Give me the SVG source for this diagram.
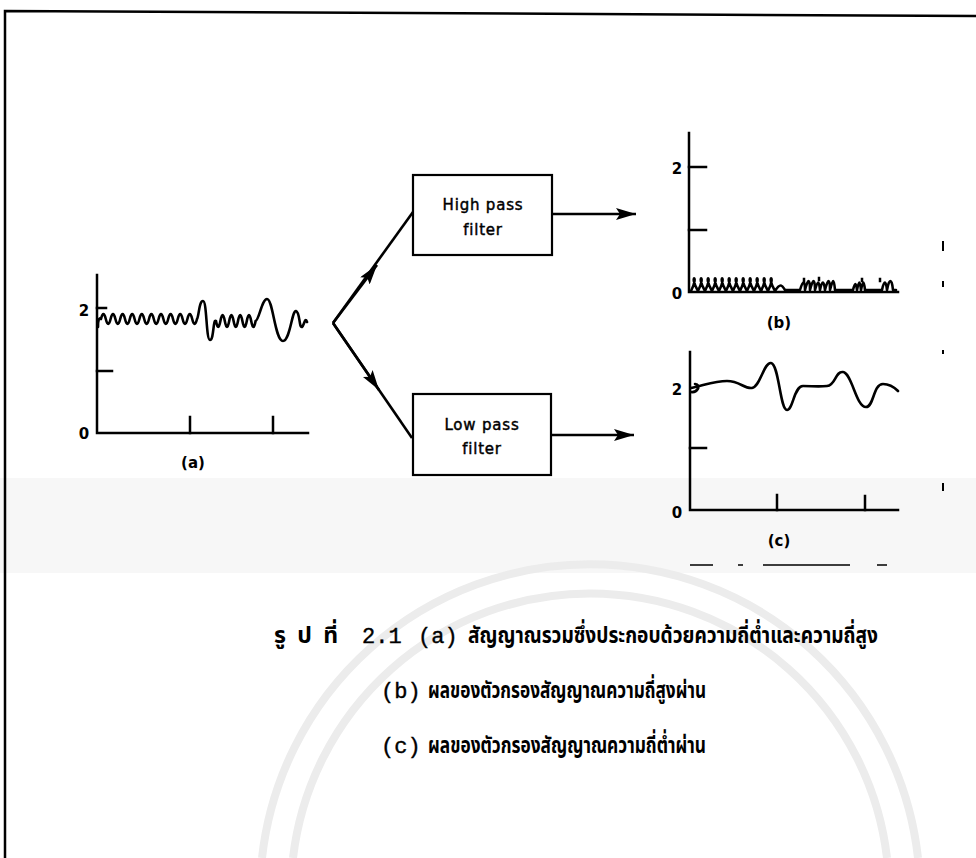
<svg xmlns="http://www.w3.org/2000/svg" width="976" height="858" viewBox="0 0 976 858">
<style>
  .ax{fill:none;stroke:#000;stroke-width:2.5;stroke-linecap:square}
  .sig{fill:none;stroke:#000;stroke-width:2.6;stroke-linejoin:round;stroke-linecap:round}
  .box{fill:#fff;stroke:#000;stroke-width:2.2}
  .lbl{font-family:"DejaVu Sans","Liberation Sans",sans-serif;font-size:15px;fill:#000;stroke:#000;stroke-width:0.45;text-anchor:middle}
  .num{font-family:"DejaVu Sans","Liberation Sans",sans-serif;font-size:15px;font-weight:bold;fill:#000;text-anchor:middle}
  .cap{font-family:"Noto Sans Thai","Loma","Garuda","DejaVu Sans","Noto Sans",sans-serif;font-size:23px;font-weight:bold;fill:#000}
  .mono{font-family:"Liberation Mono","DejaVu Sans Mono",monospace;font-size:22px;fill:#000;stroke:#000;stroke-width:0.4}
  .conn{fill:none;stroke:#000;stroke-width:2.6}
  .wm{fill:none;stroke:#ececec;stroke-width:8}
</style>
<defs>
  <marker id="ah" viewBox="0 0 20 12" refX="20" refY="6" markerWidth="20" markerHeight="12" markerUnits="userSpaceOnUse" orient="auto">
    <path d="M0,0 L20,6 L0,12 L4,6 Z" fill="#000"/>
  </marker>
</defs>
<rect width="976" height="858" fill="#fff"/>
<rect x="0" y="478" width="976" height="95" fill="#f7f7f7"/>
<g id="watermark">
  <path class="wm" d="M262,858 A330,330 0 0 1 918,858"/>
  <path class="wm" d="M293,858 A299,299 0 0 1 887,858"/>
</g>
<g id="border">
  <path d="M5,858 L5,11 L976,16" fill="none" stroke="#000" stroke-width="2.5"/>
</g>
<g id="plot-a">
  <path class="ax" d="M97,275 L97,433 L308,433"/>
  <path class="ax" d="M97,308 L106,308 M97,371 L112,371 M190,433 L190,417 M273,433 L273,417"/>
  <text class="num" x="84" y="316">2</text>
  <text class="num" x="84" y="439">0</text>
  <text class="num" x="193" y="468">(a)</text>
  <path class="sig" d="M98,327 C98,320 99,317 101,319 q2.4,-10 4.8,0 t4.8,0 t4.8,0 t4.8,0 t4.8,0 t4.8,0 t4.8,0 t4.8,0 t4.8,0 t4.8,0 t4.8,0 t4.8,0 t4.8,0 t4.8,0 t4.8,0 t4.8,0 t4.8,0 t4.8,0 t4.8,0 t4.8,0 C199,316 199,301 203,301 C207,301 206,340 210,340 C214,340 213,318 216,321 q2.2,12 4.4,0 t4.4,0 t4.4,0 t4.4,0 t4.4,0 t4.4,0 t4.4,0 t4.4,0 t4.4,0 C259,320 262,299 267,299 C273,299 275,341 283,341 C290,341 292,310 296,311 C300,312 299,328 302,327 C304,326 305,316 307,322"/>
</g>
<g id="high-pass">
  <rect class="box" x="413" y="175" width="139" height="80"/>
  <text class="lbl" x="483" y="210" letter-spacing="0.8">High pass</text>
  <text class="lbl" x="483" y="235" letter-spacing="0.8">filter</text>
</g>
<g id="low-pass">
  <rect class="box" x="413" y="394" width="138" height="81"/>
  <text class="lbl" x="482" y="430" letter-spacing="0.8">Low pass</text>
  <text class="lbl" x="482" y="454" letter-spacing="0.8">filter</text>
</g>
<g id="connectors">
  <line class="conn" x1="333" y1="323" x2="413" y2="212"/>
  <line class="conn" x1="333" y1="323" x2="412" y2="438"/>
  <line class="conn" x1="333" y1="323" x2="377" y2="265" marker-end="url(#ah)"/>
  <line class="conn" x1="333" y1="323" x2="379" y2="390" marker-end="url(#ah)"/>
  <line class="conn" x1="552" y1="214" x2="636" y2="214" marker-end="url(#ah)"/>
  <line class="conn" x1="551" y1="435" x2="634" y2="435" marker-end="url(#ah)"/>
</g>
<g id="plot-b">
  <path class="ax" d="M689,133 L689,292 L898,292"/>
  <path class="ax" d="M689,167 L706,167 M689,230 L706,230"/>
  <text class="num" x="677" y="174">2</text>
  <text class="num" x="677" y="299">0</text>
  <text class="num" x="779" y="328">(b)</text>
  <path class="sig" stroke-width="2.2" d="M691,291 c9,-17 -3,-17 7,0 c9,-17 -3,-17 7,0 c9,-17 -3,-17 7,0 c9,-17 -3,-17 7,0 c9,-17 -3,-17 7,0 c9,-17 -3,-17 7,0 c9,-17 -3,-17 7,0 c9,-17 -3,-17 7,0 c9,-17 -3,-17 7,0 c9,-17 -3,-17 7,0 c9,-17 -3,-17 7,0 c9,-17 -3,-17 7,0 c6,-10 8,-4 10,-1 L800,290 c3,-10 5,-10 5,0 c3,-12 5,-12 5,0 c3,-12 5,-12 5,0 c3,-10 4,-10 5,0 c2,-10 4,-10 5,0 c3,-12 5,-12 5,0 c3,-12 4,-12 5,0 L853,290 c2,-8 3,-8 4,0 c2,-10 3,-10 4,0 c2,-10 3,-10 4,0 L882,290 c2,-10 4,-10 5,0 c2,-12 5,-12 6,0 l3,0"/>
  <path class="ax" stroke-width="2" d="M804,279 l0,3 M819,278 l0,2 M862,279 l0,2 M880,279 l0,2"/>
</g>
<g id="plot-c">
  <path class="ax" d="M690,352 L690,510 L898,510"/>
  <path class="ax" d="M690,448 L706,448 M777,510 L777,495 M865,510 L865,496"/>
  <text class="num" x="677" y="395">2</text>
  <text class="num" x="677" y="518">0</text>
  <text class="num" x="779" y="546">(c)</text>
  <path class="sig" d="M691,392 C697,393 702,385 695,384 M691,388 C705,385 715,381 727,381 C740,381 744,389 752,388 C760,387 764,362 771,363 C779,364 780,410 787,410 C793,410 794,386 803,386 C812,386 818,387 827,386 C836,385 835,371 843,372 C852,373 856,407 866,407 C874,407 873,384 883,384 C890,384 894,387 898,391"/>
  <path d="M690,565 L713,565 M738,565 L743,565 M763,565 L850,565 M877,565 L887,565" fill="none" stroke="#000" stroke-width="1.4"/>
</g>
<g id="specks" fill="#000">
  <rect x="942" y="241" width="2" height="10"/>
  <rect x="942" y="281" width="2" height="6"/>
  <rect x="942" y="350" width="2" height="4"/>
  <rect x="942" y="483" width="2" height="8"/>
</g>
<g id="caption">
  <text class="cap" x="274" y="643" textLength="64" lengthAdjust="spacing">รูปที่</text>
  <text class="mono" x="362" y="643">2.1</text>
  <text class="mono" x="418" y="643">(a)</text>
  <text class="cap" x="468" y="643" textLength="410" lengthAdjust="spacingAndGlyphs">สัญญาณรวมซึ่งประกอบด้วยความถี่ต่ำและความถี่สูง</text>
  <text class="mono" x="381" y="698">(b)</text>
  <text class="cap" x="428" y="698" textLength="278" lengthAdjust="spacingAndGlyphs">ผลของตัวกรองสัญญาณความถี่สูงผ่าน</text>
  <text class="mono" x="381" y="753">(c)</text>
  <text class="cap" x="428" y="753" textLength="278" lengthAdjust="spacingAndGlyphs">ผลของตัวกรองสัญญาณความถี่ต่ำผ่าน</text>
</g>
</svg>
